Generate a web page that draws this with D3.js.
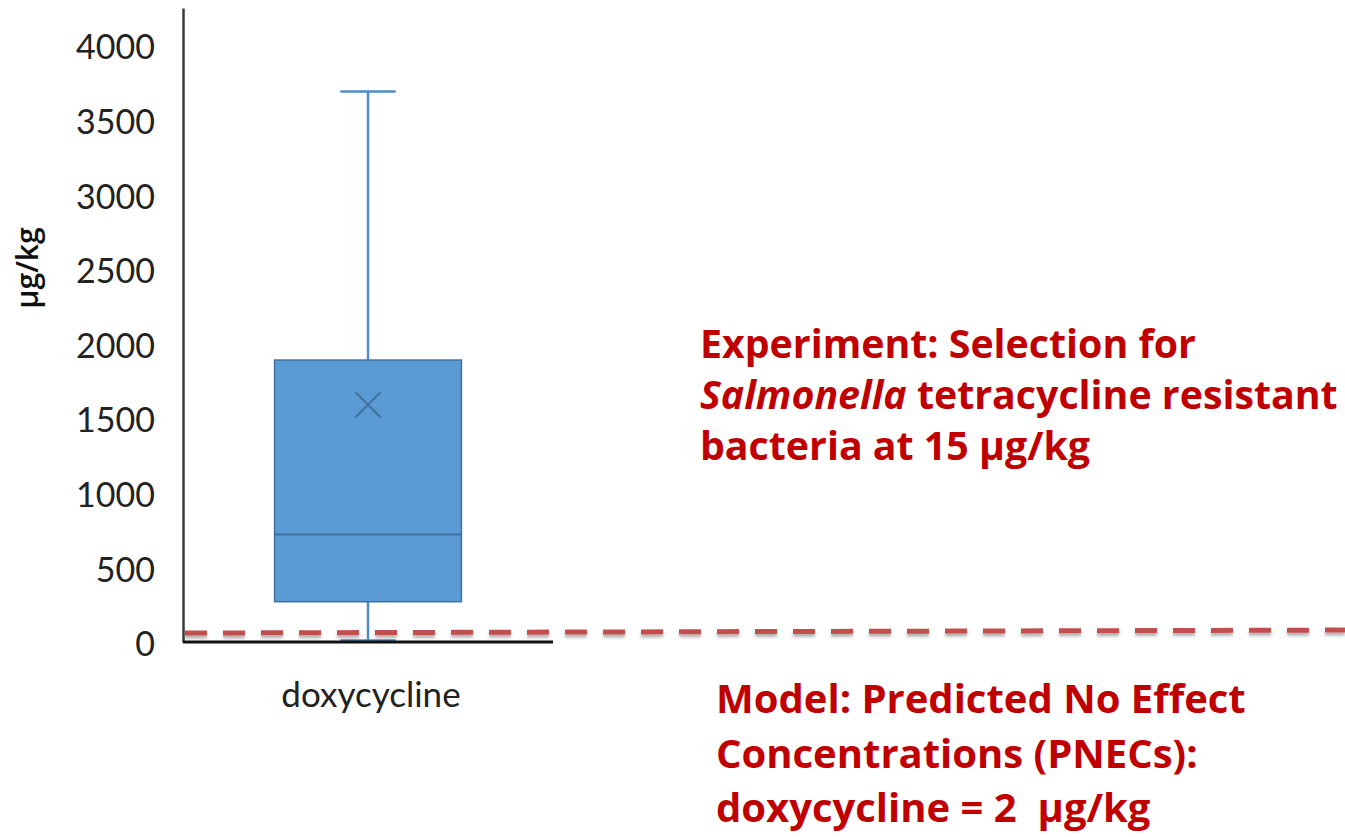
<!DOCTYPE html>
<html>
<head>
<meta charset="utf-8">
<script src="https://cdn.jsdelivr.net/npm/d3@7"></script>
<style>
   html, body { margin: 0; padding: 0; background: #fff; }
   svg { display: block; }
</style>
</head>
<body>
<div id="chart"></div>
<script>

// CHART DATA
var categories = ['doxycycline'];
var boxMin = [10];
var boxQ1 = [270];
var boxMedian = [720];
var boxQ3 = [1890];
var boxMax = [3690];
var boxMean = [1590];
var yTicks = [0, 500, 1000, 1500, 2000, 2500, 3000, 3500, 4000];
var yLabel = 'µg/kg';

// PNEC REFERENCE LINE (VALUE AT LEFT, VALUE AT RIGHT)
var pnecLine = [60, 80];

// ANNOTATION TEXT
var experimentText = [
   [{ t: 'Experiment: Selection for', i: false }],
   [{ t: 'Salmonella', i: true }, { t: ' tetracycline resistant', i: false }],
   [{ t: 'bacteria at 15 µg/kg', i: false }]
];
var modelText = [
   'Model: Predicted No Effect',
   'Concentrations (PNECs):',
   'doxycycline = 2  µg/kg'
];

// SETTINGS
var settings = {
   width: 1345,
   height: 837,
   plot: { left: 183, right: 553, top: 8, bottom: 642 },
   box: { fill: '#5B9BD5', stroke: '#41719C', whisker: '#4F8CC9' },
   red: '#C00000',
   dash: '#C0504D',
   font: 'Lato, "Open Sans", sans-serif',
   boldFont: '"Open Sans", Lato, sans-serif'
};

// GENERATE CANVAS
var canvas = d3.select('#chart').append('svg')
   .attr('width', settings.width)
   .attr('height', settings.height)

// SHADOW FILTER FOR DASHED LINE
var filter = canvas.append('defs').append('filter')
   .attr('id', 'shadow')
   .attr('x', '-5%').attr('y', '-200%')
   .attr('width', '110%').attr('height', '500%')

filter.append('feDropShadow')
   .attr('dx', 0)
   .attr('dy', 3)
   .attr('stdDeviation', 1.6)
   .attr('flood-color', '#000')
   .attr('flood-opacity', 0.3)

// Y-SCALING
var yScale = d3.scaleLinear()
   .domain([0, 4250])
   .range([settings.plot.bottom, settings.plot.top])

// X-SCALING
var xScale = d3.scaleBand()
   .domain(categories)
   .range([settings.plot.left, settings.plot.right])

// Y-AXIS
var yAxis = d3.axisLeft(yScale)
   .tickValues(yTicks)
   .tickFormat(d3.format('d'))
   .tickSize(0)
   .tickPadding(28)

var yG = canvas.append('g')
   .attr('transform', 'translate(' + settings.plot.left + ',0)')
   .call(yAxis)

yG.select('.domain')
   .attr('stroke', '#3a3a3a')
   .attr('stroke-width', 2.5)

yG.selectAll('text')
   .attr('font-family', settings.font)
   .attr('font-size', 34)
   .attr('fill', '#222')
   .attr('dy', '0.4em')

// Y-AXIS TITLE
canvas.append('text')
   .attr('transform', 'translate(38,' + 268 + ') rotate(-90)')
   .attr('text-anchor', 'middle')
   .attr('font-family', settings.boldFont)
   .attr('font-weight', 600)
   .attr('font-size', 30)
   .attr('fill', '#111')
   .text(yLabel)

// BOX PLOTS
categories.forEach((cat, i) => {

   var cx = xScale(cat) + xScale.bandwidth() / 2;
   var bw = xScale.bandwidth() * 0.505;
   var cap = xScale.bandwidth() * 0.15;

   // WHISKERS
   [[boxQ3[i], boxMax[i]], [boxMin[i], boxQ1[i]]].forEach(w => {
      canvas.append('line')
         .attr('x1', cx).attr('x2', cx)
         .attr('y1', yScale(w[0])).attr('y2', yScale(w[1]))
         .attr('stroke', settings.box.whisker)
         .attr('stroke-width', 2.5)
   });

   [boxMax[i], boxMin[i]].forEach(v => {
      canvas.append('line')
         .attr('x1', cx - cap / 2).attr('x2', cx + cap / 2)
         .attr('y1', yScale(v)).attr('y2', yScale(v))
         .attr('stroke', settings.box.whisker)
         .attr('stroke-width', 2.5)
   });

   // BOX
   canvas.append('rect')
      .attr('x', cx - bw / 2)
      .attr('y', yScale(boxQ3[i]))
      .attr('width', bw)
      .attr('height', yScale(boxQ1[i]) - yScale(boxQ3[i]))
      .attr('fill', settings.box.fill)
      .attr('stroke', settings.box.stroke)
      .attr('stroke-width', 1.5)

   // MEDIAN
   canvas.append('line')
      .attr('x1', cx - bw / 2).attr('x2', cx + bw / 2)
      .attr('y1', yScale(boxMedian[i])).attr('y2', yScale(boxMedian[i]))
      .attr('stroke', settings.box.stroke)
      .attr('stroke-width', 2)

   // MEAN MARKER
   var m = 12.5, my = yScale(boxMean[i]);
   canvas.append('path')
      .attr('d', 'M' + (cx - m) + ',' + (my - m) + 'L' + (cx + m) + ',' + (my + m) +
                 'M' + (cx - m) + ',' + (my + m) + 'L' + (cx + m) + ',' + (my - m))
      .attr('stroke', settings.box.stroke)
      .attr('stroke-width', 2)
      .attr('fill', 'none')

   // CATEGORY LABEL
   canvas.append('text')
      .attr('x', cx + 3)
      .attr('y', 707)
      .attr('text-anchor', 'middle')
      .attr('font-family', settings.font)
      .attr('font-size', 35)
      .attr('fill', '#222')
      .text(cat)
});

// X-AXIS LINE
canvas.append('line')
   .attr('x1', settings.plot.left)
   .attr('x2', settings.plot.right)
   .attr('y1', settings.plot.bottom)
   .attr('y2', settings.plot.bottom)
   .attr('stroke', '#111')
   .attr('stroke-width', 3)

// PNEC DASHED LINE
canvas.append('line')
   .attr('x1', settings.plot.left + 2)
   .attr('x2', settings.width)
   .attr('y1', yScale(pnecLine[0]))
   .attr('y2', yScale(pnecLine[1]))
   .attr('stroke', settings.dash)
   .attr('stroke-width', 5)
   .attr('stroke-dasharray', '22,16')
   .attr('filter', 'url(#shadow)')

// EXPERIMENT ANNOTATION
var exp = canvas.append('text')
   .attr('font-family', settings.boldFont)
   .attr('font-weight', 'bold')
   .attr('font-size', 39.3)
   .attr('fill', settings.red)

experimentText.forEach((line, i) => {
   var tl = exp.append('tspan')
      .attr('x', 700)
      .attr('y', 358 + i * 51)
   line.forEach(part => {
      tl.append('tspan')
         .attr('font-style', part.i ? 'italic' : 'normal')
         .text(part.t)
   });
});

// MODEL ANNOTATION
var mod = canvas.append('text')
   .attr('font-family', settings.boldFont)
   .attr('font-weight', 'bold')
   .attr('font-size', 40)
   .attr('fill', settings.red)

modelText.forEach((line, i) => {
   mod.append('tspan')
      .attr('x', 716)
      .attr('y', 713 + i * 54.5)
      .attr('xml:space', 'preserve')
      .text(line)
});

</script>
</body>
</html>
